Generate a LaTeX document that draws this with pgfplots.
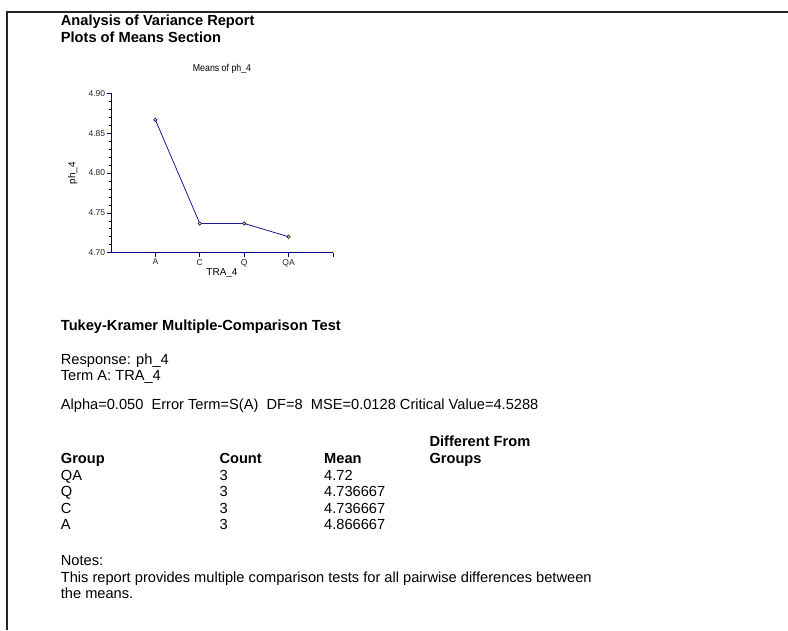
\documentclass[border=0pt]{standalone}
\usepackage{pgfplots}
\pgfplotsset{compat=1.18}
\usepackage{graphicx}
\usepackage{fontspec}
\setmainfont{Liberation Sans}
\definecolor{axnavy}{RGB}{0,0,128}
\definecolor{linenavy}{RGB}{25,25,145}
\definecolor{mkyellow}{RGB}{255,255,0}
\newcommand{\bodyfont}{\fontsize{14.63}{17}\selectfont}
\begin{document}
\begin{tikzpicture}[x=1pt,y=1pt]
\useasboundingbox (0,0) rectangle (788,630);
% page frame
\draw[line width=2pt, black!85] (6.7,0) -- (6.7,618.3) -- (788,618.3);
% report text
\begin{scope}[every node/.style={anchor=base west, inner sep=0pt, font=\bodyfont}]
\node[font=\bodyfont\bfseries] at (60.7,604) {Analysis of Variance Report};
\node[font=\bodyfont\bfseries] at (60.7,587.3) {Plots of Means Section};
\node[font=\bodyfont\bfseries] at (60.7,299.3) {Tukey-Kramer Multiple-Comparison Test};
\node at (60.7,265) {Response: ph\_4};
\node at (60.7,249) {Term A: TRA\_4};
\node at (60.7,220) {Alpha=0.050\ \ Error Term=S(A)\ \ DF=8\ \ MSE=0.0128 Critical Value=4.5288};
\node[font=\bodyfont\bfseries] at (429.3,183.3) {Different From};
\node[font=\bodyfont\bfseries] at (60.7,166.5) {Group};
\node[font=\bodyfont\bfseries] at (219.3,166.5) {Count};
\node[font=\bodyfont\bfseries] at (324,166.5) {Mean};
\node[font=\bodyfont\bfseries] at (429.3,166.5) {Groups};
\node at (60.7,149.5) {QA}; \node at (219.3,149.5) {3}; \node at (324,149.5) {4.72};
\node at (60.7,133) {Q};  \node at (219.3,133) {3}; \node at (324,133) {4.736667};
\node at (60.7,116.5) {C}; \node at (219.3,116.5) {3}; \node at (324,116.5) {4.736667};
\node at (60.7,100) {A};  \node at (219.3,100) {3}; \node at (324,100) {4.866667};
\node at (60.7,64) {Notes:};
\node at (60.7,47.5) {This report provides multiple comparison tests for all pairwise differences between};
\node at (60.7,31) {the means.};
\end{scope}
\begin{axis}[
  at={(111pt,377.3pt)}, anchor=south west,
  scale only axis, width=222pt, height=159.4pt,
  xmin=0, xmax=5, ymin=4.70, ymax=4.90,
  axis lines=left,
  axis line style={axnavy, line width=0.8pt, -},
  tick style={axnavy, line width=0.6pt},
  tick align=outside,
  major tick length=4pt, minor tick length=2.3pt,
  xtick={1,2,3,4,5}, xticklabels={A,C,Q,QA,},
  ytick={4.70,4.75,4.80,4.85,4.90},
  minor y tick num=4,
  /pgf/number format/assume math mode=true,
  /pgf/number format/fixed,
  /pgf/number format/fixed zerofill,
  /pgf/number format/precision=2,
  yticklabel style={inner sep=1.6pt},
  xticklabel style={inner sep=2.2pt},
  ticklabel style={font=\fontsize{8.5}{10}\selectfont, text=black!85},
  title={\scalebox{0.88}[1]{Means of ph\_4}},
  title style={at={(axis description cs:0.5,1)}, anchor=base, yshift=16pt, inner sep=0pt, font=\fontsize{10}{12}\selectfont},
  xlabel={TRA\_4},
  xlabel style={at={(axis description cs:0.5,-0.146)}, anchor=base, inner sep=0pt, font=\fontsize{10}{12}\selectfont},
  ylabel={ph\_4},
  ylabel style={at={(axis description cs:-0.1725,0.5)}, anchor=center, inner sep=0pt, font=\fontsize{10}{12}\selectfont},
  clip=false,
]
\addplot[color=linenavy, line width=0.8pt, mark=*, mark size=1.7pt,
  mark options={fill=mkyellow, draw=axnavy, line width=0.6pt}]
  coordinates {(1,4.866667) (2,4.736667) (3,4.736667) (4,4.72)};
\end{axis}
\end{tikzpicture}
\end{document}
